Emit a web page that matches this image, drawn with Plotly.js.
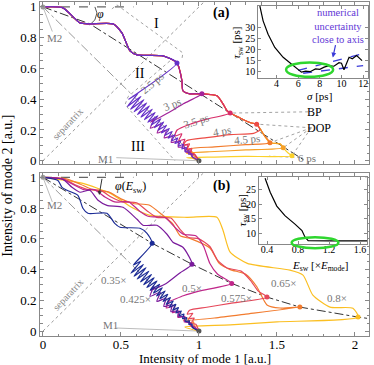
<!DOCTYPE html>
<html>
<head>
<meta charset="utf-8">
<script src="https://cdn.plot.ly/plotly-3.0.1.min.js"></script>
<style>
html, body { margin: 0; padding: 0; background: #fff; }
#chart { width: 374px; height: 365px; }
</style>
</head>
<body>
<div id="chart"></div>
<script>
// ---- panel (a): trajectories for different pulse widths sigma ----
const sigmaNames = ["2.5 ps", "3 ps", "3.5 ps", "4 ps", "4.5 ps", "5 ps", "6 ps"];
// shared wiggly path, every trajectory leaves it at its own branch point (BP)
const mainAX = [0, 0.128, 0.237, 0.30, 0.449, 0.506, 0.558, 0.603, 0.769, 0.859, 0.891, 0.897, 0.942, 1.019,
	1.115, 1.154, 1.18, 1.2, 1.26, 1.33, 1.37, 1.40, 1.42, 1.455, 1.52, 1.54, 1.57, 1.596];
const mainAY = [1, 0.994, 0.896, 0.89, 0.89, 0.831, 0.714, 0.688, 0.682, 0.636, 0.52, 0.455, 0.435, 0.435,
	0.422, 0.37, 0.325, 0.31, 0.28, 0.247, 0.238, 0.195, 0.162, 0.117, 0.11, 0.084, 0.052, 0.032];
const branchA = [9, 13, 17, 20, 23, 25, 27];
// way back from the BP and the oscillation towards M1
const tailAX = [
	[0.55, 0.610, 0.541, 0.628, 0.562, 0.647, 0.584, 0.665, 0.606, 0.683, 0.628, 0.701, 0.650, 0.719, 0.672,
		0.737, 0.693, 0.756, 0.715, 0.774, 0.737, 0.792, 0.759, 0.810, 0.781, 0.828, 0.803, 0.846, 0.825,
		0.864, 0.846, 0.883, 0.868, 0.901, 0.890, 0.919, 0.912, 0.937, 0.934, 0.955, 0.956, 1],
	[0.90, 0.80, 0.69, 0.715, 0.688, 0.754, 0.732, 0.791, 0.777, 0.830, 0.822, 0.868, 0.867, 0.906, 0.912, 0.944, 0.957, 1],
	[1.05, 0.95, 0.86, 0.845, 0.89, 0.87, 0.91, 0.895, 0.93, 0.92, 0.95, 0.945, 0.97, 1],
	[1.39, 1.35, 1.2, 1.05, 0.92, 0.90, 0.94, 0.925, 0.955, 0.945, 0.97, 1],
	[1.3, 1.1, 0.94, 0.925, 0.955, 0.95, 0.975, 1],
	[1.3, 1.1, 0.92, 0.95, 0.96, 1],
	[1.3, 1.1, 0.92, 0.96, 1]
];
const tailAY = [
	[0.40, 0.439, 0.353, 0.418, 0.335, 0.397, 0.318, 0.376, 0.301, 0.356, 0.284, 0.335, 0.267, 0.314, 0.250,
		0.293, 0.232, 0.273, 0.215, 0.252, 0.198, 0.231, 0.181, 0.210, 0.164, 0.190, 0.146, 0.169, 0.129,
		0.148, 0.112, 0.128, 0.095, 0.107, 0.077, 0.086, 0.060, 0.065, 0.043, 0.044, 0.026, 0],
	[0.37, 0.31, 0.25, 0.274, 0.211, 0.237, 0.180, 0.200, 0.149, 0.162, 0.119, 0.126, 0.089, 0.089, 0.058, 0.051, 0.027, 0],
	[0.27, 0.24, 0.20, 0.16, 0.175, 0.13, 0.14, 0.10, 0.105, 0.07, 0.07, 0.045, 0.04, 0],
	[0.2, 0.178, 0.17, 0.15, 0.13, 0.10, 0.11, 0.075, 0.08, 0.05, 0.045, 0],
	[0.105, 0.09, 0.078, 0.06, 0.06, 0.035, 0.03, 0],
	[0.07, 0.06, 0.05, 0.04, 0.02, 0],
	[0.028, 0.024, 0.02, 0.015, 0]
];

// ---- panel (b): trajectories for different switching energies ----
const energyNames = ["0.35×", "0.425×", "0.5×", "0.575×", "0.65×", "0.8×"];
const fwdBX = [
	[0, 0.096, 0.122, 0.154, 0.224, 0.256, 0.288, 0.41, 0.46, 0.494, 0.622, 0.667, 0.70],
	[0, 0.128, 0.186, 0.237, 0.30, 0.353, 0.41, 0.513, 0.603, 0.641, 0.73, 0.795, 0.833, 0.897, 0.955],
	[0, 0.12, 0.2, 0.26, 0.33, 0.40, 0.46, 0.55, 0.62, 0.68, 0.78, 0.85, 0.90, 0.98, 1.03, 1.07, 1.12, 1.21],
	[0, 0.13, 0.21, 0.29, 0.37, 0.44, 0.51, 0.60, 0.67, 0.73, 0.82, 0.88, 0.93, 1.0, 1.07, 1.12, 1.18, 1.27, 1.33, 1.38, 1.436],
	[0, 0.15, 0.24, 0.32, 0.42, 0.50, 0.58, 0.68, 0.76, 0.83, 0.88, 0.95, 1.07, 1.13, 1.2, 1.3, 1.37, 1.436, 1.52, 1.647],
	[0, 0.256, 0.43, 0.577, 0.686, 0.923, 1.115, 1.154, 1.2, 1.31, 1.583, 1.667, 1.73, 1.84, 1.987, 2.02]
];
const fwdBY = [
	[1, 0.98, 0.935, 0.916, 0.883, 0.799, 0.766, 0.766, 0.701, 0.675, 0.669, 0.636, 0.571],
	[1, 0.987, 0.935, 0.903, 0.916, 0.851, 0.818, 0.805, 0.727, 0.688, 0.688, 0.63, 0.578, 0.545, 0.435],
	[1, 0.99, 0.95, 0.92, 0.92, 0.87, 0.84, 0.84, 0.78, 0.745, 0.74, 0.67, 0.63, 0.62, 0.55, 0.44, 0.37, 0.31],
	[1, 0.99, 0.95, 0.92, 0.915, 0.87, 0.84, 0.835, 0.78, 0.74, 0.735, 0.66, 0.61, 0.60, 0.55, 0.46, 0.41, 0.39, 0.33, 0.26, 0.221],
	[1, 0.99, 0.955, 0.92, 0.905, 0.86, 0.83, 0.82, 0.76, 0.70, 0.62, 0.60, 0.54, 0.44, 0.40, 0.37, 0.29, 0.17, 0.15, 0.156],
	[1, 0.961, 0.896, 0.80, 0.753, 0.74, 0.74, 0.656, 0.513, 0.44, 0.396, 0.364, 0.234, 0.156, 0.149, 0.091]
];
const tailBX = [
	[0.58, 0.627, 0.564, 0.644, 0.584, 0.661, 0.604, 0.679, 0.625, 0.696, 0.646, 0.713, 0.666, 0.731, 0.687,
		0.748, 0.708, 0.765, 0.728, 0.783, 0.749, 0.800, 0.770, 0.817, 0.790, 0.835, 0.811, 0.852, 0.832,
		0.869, 0.852, 0.887, 0.873, 0.904, 0.894, 0.921, 0.914, 0.939, 0.935, 0.956, 0.956, 1],
	[0.88, 0.79, 0.69, 0.712, 0.686, 0.752, 0.730, 0.789, 0.775, 0.828, 0.820, 0.866, 0.866, 0.905, 0.911, 0.943, 0.957, 1],
	[1.0, 0.90, 0.80, 0.81, 0.79, 0.845, 0.83, 0.875, 0.865, 0.91, 0.905, 0.94, 0.945, 0.97, 1],
	[1.2, 1.05, 0.94, 0.925, 0.96, 0.935, 0.97, 0.95, 0.98, 1],
	[1.3, 1.1, 0.90, 0.93, 0.94, 0.965, 0.97, 1],
	[1.5, 1.2, 0.91, 1]
];
const tailBY = [
	[0.43, 0.455, 0.376, 0.434, 0.357, 0.412, 0.339, 0.390, 0.320, 0.369, 0.302, 0.347, 0.284, 0.326, 0.265,
		0.304, 0.247, 0.282, 0.228, 0.261, 0.210, 0.239, 0.192, 0.218, 0.173, 0.196, 0.155, 0.174, 0.136,
		0.153, 0.118, 0.131, 0.100, 0.110, 0.081, 0.088, 0.063, 0.067, 0.044, 0.045, 0.026, 0],
	[0.38, 0.31, 0.266, 0.292, 0.226, 0.253, 0.193, 0.213, 0.160, 0.172, 0.127, 0.131, 0.094, 0.093, 0.061, 0.054, 0.028, 0],
	[0.26, 0.23, 0.19, 0.20, 0.15, 0.165, 0.12, 0.13, 0.09, 0.095, 0.06, 0.06, 0.035, 0.03, 0],
	[0.18, 0.155, 0.136, 0.11, 0.115, 0.08, 0.085, 0.05, 0.045, 0],
	[0.11, 0.085, 0.07, 0.085, 0.05, 0.06, 0.03, 0],
	[0.06, 0.04, 0.026, 0]
];

// guide lines
const bpLineAX = [0, 0.30, 0.878, 1.6, 1.68];
const bpLineAY = [1, 0.89, 0.519, 0.052, 0];
const bpLineBX = [0, 0.70, 0.955, 1.21, 1.436, 1.647, 2.02, 2.1];
const bpLineBY = [1, 0.571, 0.435, 0.31, 0.221, 0.156, 0.091, 0.08];

// insets
const sigmaPs = [2.46, 2.76, 3.22, 3.84, 4.61, 5.53, 6.15, 6.3, 6.7, 7.1, 7.6, 8.0, 8.4, 8.85, 9.3, 9.77, 10.0, 10.23, 10.7, 11.0, 11.4, 11.9];
const tauSwA = [40, 33.2, 27.1, 21, 16.5, 12.7, 10.1, 9.7, 10.2, 9.9, 11.2, 11.0, 12.0, 12.7, 12.4, 14.0, 13.8, 10.8, 16.5, 15.8, 17.3, 15];
const uncertUpX = [6.0, 11.85], uncertUpY = [10.5, 18];
const uncertLoX = [6.46, 12], uncertLoY = [9.2, 12.7];
const eSw = [0.374, 0.44, 0.525, 0.63, 0.76, 0.85, 0.89, 0.93, 1.2, 1.69];
const tauSwB = [29, 24.2, 19.4, 16.1, 13.2, 11, 8.7, 7.5, 7.4, 7.4];

const colorsA = ["#6530c8", "#a2249a", "#d82f6a", "#ec4c46", "#f27a2a", "#f6a026", "#fbd12c"];
const colorsB = ["#1c2c96", "#7a1b9c", "#c0278a", "#e6485a", "#f27b2e", "#fbbf22"];
const serif = "Liberation Serif, Times New Roman, serif";
const grey = "#888";

let traces = [];

function guide(x, y, xa, ya, dash, color, w){
	traces.push({x: x, y: y, xaxis: xa, yaxis: ya, mode: "lines", hoverinfo: "skip",
		line: {color: color, width: w, dash: dash}});
}

// common guides in both panels
[["x", "y"], ["x2", "y2"]].forEach(function(ax){
	guide([0, 1.1], [0, 1.1], ax[0], ax[1], "dot", "#999", 1);            // separatrix
	guide([0, 1], [1, 0], ax[0], ax[1], "dashdot", "#999", 1);             // M2 - M1
	guide([0, 0.58], [1, 1], ax[0], ax[1], "dash", "#666", 1.2);           // horizontal reference
	guide([0.06, 0], [0.84, 1], ax[0], ax[1], "solid", "#aaa", 0.8);       // M2 pointer
	guide([0.47, 1], [0.02, 0], ax[0], ax[1], "solid", "#aaa", 0.8);       // M1 pointer
});
guide(bpLineAX, bpLineAY, "x", "y", "dashdot", "#333", 1);
guide(bpLineBX, bpLineBY, "x2", "y2", "dashdot", "#333", 1);
// region outlines of (a)
guide([0.442, 0.474, 0.897, 0.891], [0.987, 1.013, 0.701, 0.662], "x", "y", "dot", "#999", 0.9);
guide([0.814, 0.545, 0.526, 0.846], [0.649, 0.416, 0.364, 0], "x", "y", "dot", "#999", 0.9);
// BP / DOP / 6 ps pointers
guide([1.70, 1.21], [0.318, 0.31], "x", "y", "dot", "#999", 0.9);
guide([1.72, 1.37, null, 1.72, 1.455, null, 1.72, 1.54, null, 1.72, 1.596],
	[0.214, 0.238, null, 0.214, 0.117, null, 0.214, 0.084, null, 0.214, 0.032], "x", "y", "dot", "#999", 0.9);
guide([1.65, 1.45], [0.02, 0.03], "x", "y", "dot", "#999", 0.9);
// phi arc
guide([0.333, 0.346, 0.333, 0.30], [1, 0.961, 0.916, 0.883], "x", "y", "solid", "#444", 0.9);

// panel (a) trajectories, later ones underneath
for(let k = sigmaNames.length-1; k >= 0; k--){
	let n = branchA[k]+1;
	traces.push({x: mainAX.slice(0, n).concat(tailAX[k]), y: mainAY.slice(0, n).concat(tailAY[k]),
		xaxis: "x", yaxis: "y", mode: "lines", name: sigmaNames[k],
		line: {color: colorsA[k], width: 1.2, shape: "spline", smoothing: 0.6, simplify: false}});
}
traces.push({x: branchA.map(i => mainAX[i]), y: branchA.map(i => mainAY[i]), xaxis: "x", yaxis: "y",
	mode: "markers", marker: {color: colorsA, size: 5}});

// panel (b) trajectories
for(let k = energyNames.length-1; k >= 0; k--){
	traces.push({x: fwdBX[k].concat(tailBX[k]), y: fwdBY[k].concat(tailBY[k]),
		xaxis: "x2", yaxis: "y2", mode: "lines", name: energyNames[k],
		line: {color: colorsB[k], width: 1.2, shape: "spline", smoothing: 0.6, simplify: false}});
}
traces.push({x: fwdBX.map(a => a[a.length-1]), y: fwdBY.map(a => a[a.length-1]), xaxis: "x2", yaxis: "y2",
	mode: "markers", marker: {color: colorsB, size: 5}});

// M1 / M2 dots
traces.push({x: [0, 1], y: [1, 0], xaxis: "x", yaxis: "y", mode: "markers", marker: {color: ["#999", "#555"], size: 5}});
traces.push({x: [0, 1], y: [1, 0], xaxis: "x2", yaxis: "y2", mode: "markers", marker: {color: ["#999", "#555"], size: 5}});

// inset traces
traces.push({x: uncertUpX, y: uncertUpY, xaxis: "x3", yaxis: "y3", mode: "lines", line: {color: "#3a3ad8", width: 1.4, dash: "dash"}});
traces.push({x: uncertLoX, y: uncertLoY, xaxis: "x3", yaxis: "y3", mode: "lines", line: {color: "#3a3ad8", width: 1.4, dash: "dash"}});
traces.push({x: sigmaPs, y: tauSwA, xaxis: "x3", yaxis: "y3", mode: "lines", line: {color: "#000", width: 1.2}});
traces.push({x: eSw, y: tauSwB, xaxis: "x4", yaxis: "y4", mode: "lines", line: {color: "#000", width: 1.2}});

function frame(extra){
	let a = {showline: true, linecolor: grey, linewidth: 1, mirror: "allticks", ticks: "inside",
		ticklen: 4, tickcolor: grey, showgrid: false, zeroline: false, ticklabeloverflow: "allow",
		tickfont: {family: serif, size: 13, color: "#000"}};
	return Object.assign(a, extra);
}
function insetFrame(extra){
	let a = frame(extra);
	a.ticklen = 3;
	a.tickfont = {family: serif, size: 10, color: "#000"};
	return a;
}

function txt(x, y, text, ref, opts){
	let a = {x: x, y: y, xref: ref[0], yref: ref[1], text: text, showarrow: false,
		xanchor: "center", yanchor: "middle",
		font: {family: serif, size: 11, color: "#777"}};
	return Object.assign(a, opts || {});
}
const refA = ["x", "y"], refB = ["x2", "y2"], paper = ["paper", "paper"];
const black = {family: serif, size: 14, color: "#000"};

let annotations = [
	txt(1.147, 0.961, "<b>(a)</b>", refA, {font: black}),
	txt(0.73, 0.89, "I", refA, {font: black}),
	txt(0.62, 0.57, "II", refA, {font: black}),
	txt(0.61, 0.09, "III", refA, {font: black}),
	txt(0.077, 0.80, "M2", refA),
	txt(0.40, 0.013, "M1", refA),
	txt(0.16, 0.24, "separatrix", refA, {textangle: -47, font: {family: serif, size: 10, color: "#888"}}),
	txt(1.74, 0.318, "BP", refA, {font: {family: serif, size: 12, color: "#000"}}),
	txt(1.77, 0.214, "DOP", refA, {font: {family: serif, size: 12, color: "#000"}}),
	txt(1.69, 0.02, "6 ps", refA),
	txt(0.70, 0.506, "2.5 ps", refA, {textangle: -40}),
	txt(0.83, 0.37, "3 ps", refA, {textangle: -22}),
	txt(0.98, 0.26, "3.5 ps", refA, {textangle: -18}),
	txt(1.147, 0.195, "4 ps", refA, {textangle: -10}),
	txt(1.31, 0.143, "4.5 ps", refA, {textangle: -5}),
	txt(0.37, 0.955, "<i>φ</i>", refA, {font: {family: serif, size: 12, color: "#000"}}),

	txt(1.147, 0.942, "<b>(b)</b>", refB, {font: black}),
	txt(0.56, 0.94, "<i>φ</i>(<i>E</i><sub>sw</sub>)", refB, {font: {family: serif, size: 12, color: "#000"}}),
	{x: 0.36, y: 0.885, xref: "x2", yref: "y2", ax: 0.38, ay: 1.0, axref: "x2", ayref: "y2", text: "",
		showarrow: true, arrowhead: 2, arrowsize: 0.8, arrowwidth: 1, arrowcolor: "#333"},
	txt(0.077, 0.818, "M2", refB),
	txt(0.43, 0.04, "M1", refB),
	txt(0.16, 0.24, "separatrix", refB, {textangle: -47, font: {family: serif, size: 10, color: "#888"}}),
	txt(0.455, 0.33, "0.35×", refB),
	txt(0.59, 0.208, "0.425×", refB),
	txt(0.955, 0.279, "0.5×", refB),
	txt(1.24, 0.214, "0.575×", refB),
	txt(1.54, 0.31, "0.65×", refB),
	txt(1.885, 0.214, "0.8×", refB),

	txt(-0.097, 0.45, "Intensity of mode 2 [a.u.]", paper, {textangle: -90, font: {family: serif, size: 14, color: "#000"}}),
	txt(0.50, -0.068, "Intensity of mode 1 [a.u.]", paper, {font: {family: serif, size: 13, color: "#000"}}),
	txt(0.851, 0.719, "<i>σ</i> [ps]", paper, {font: {family: serif, size: 11, color: "#000"}}),
	txt(0.599, 0.878, "<i>τ</i><sub>sw</sub> [ps]", paper, {textangle: -90, font: {family: serif, size: 11, color: "#000"}}),
	txt(0.906, 0.928, "numerical<br>uncertainty<br>close to axis", paper, {font: {family: serif, size: 10.5, color: "#6238d6"}}),
	{x: 9.2, y: 16.4, xref: "x3", yref: "y3", ax: 3, ay: -14, text: "", showarrow: true, arrowhead: 2,
		arrowsize: 0.8, arrowwidth: 1.2, arrowcolor: "#3a3ad8"},
	txt(0.851, 0.210, "<i>E</i><sub>sw</sub> [×<i>E</i><sub>mode</sub>]", paper, {font: {family: serif, size: 11, color: "#000"}}),
	txt(0.617, 0.376, "<i>τ</i><sub>sw</sub> [ps]", paper, {textangle: -90, font: {family: serif, size: 11, color: "#000"}})
];

let layout = {
	width: 374, height: 365,
	margin: {l: 40, r: 5, t: 2, b: 29},
	paper_bgcolor: "#fff", plot_bgcolor: "#fff",
	showlegend: false,
	xaxis: frame({domain: [0, 1], anchor: "y", range: [-0.019, 2.09], dtick: 0.5, showticklabels: false,
		minor: {dtick: 0.1, ticks: "inside", ticklen: 2.5, tickcolor: grey}}),
	yaxis: frame({domain: [0.516, 1], anchor: "x", range: [-0.019, 1.032], dtick: 0.2,
		minor: {dtick: 0.05, ticks: "inside", ticklen: 2.5, tickcolor: grey}}),
	xaxis2: frame({domain: [0, 1], anchor: "y2", range: [-0.019, 2.09], tickvals: [0, 0.5, 1, 1.5, 2],
		ticktext: ["0", "0.5", "1", "1.5", "2"], ticklabelstandoff: -4,
		minor: {dtick: 0.1, ticks: "inside", ticklen: 2.5, tickcolor: grey}}),
	yaxis2: frame({domain: [0, 0.487], anchor: "x2", range: [-0.032, 1.026], dtick: 0.2,
		minor: {dtick: 0.05, ticks: "inside", ticklen: 2.5, tickcolor: grey}}),
	xaxis3: insetFrame({domain: [0.663, 0.997], anchor: "y3", range: [2.3, 12.45], tickvals: [4, 6, 8, 10, 12], ticklabelstandoff: -4}),
	yaxis3: insetFrame({domain: [0.773, 0.988], anchor: "x3", range: [7.1, 40], tickvals: [10, 15, 20, 25, 30]}),
	xaxis4: insetFrame({domain: [0.666, 0.994], anchor: "y4", range: [0.297, 1.69], tickvals: [0.4, 0.8, 1.2, 1.6], ticklabelstandoff: -4}),
	yaxis4: insetFrame({domain: [0.275, 0.475], anchor: "x4", range: [6.3, 29.3], tickvals: [10, 15, 20, 25]}),
	annotations: annotations,
	shapes: [
		{type: "circle", xref: "paper", yref: "paper", x0: 0.748, x1: 0.891, y0: 0.776, y1: 0.819,
			line: {color: "#2fd62f", width: 2.5}},
		{type: "circle", xref: "paper", yref: "paper", x0: 0.765, x1: 0.907, y0: 0.263, y1: 0.296,
			line: {color: "#2fd62f", width: 2.5}}
	]
};

Plotly.newPlot("chart", traces, layout, {staticPlot: true, displayModeBar: false});
</script>
</body>
</html>
